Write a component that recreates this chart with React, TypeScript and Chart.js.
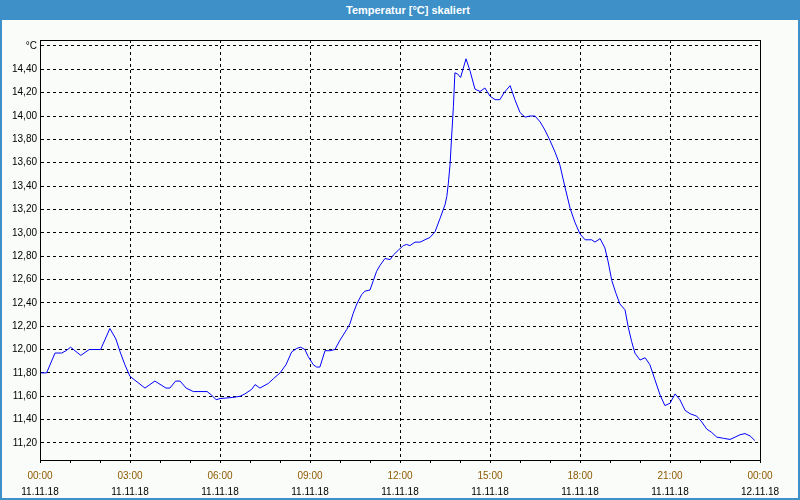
import React, { useEffect, useRef } from 'react';
import { Chart, registerables } from 'chart.js';

Chart.register(...registerables);

// Time of day in hours (0 = 00:00 on 11.11.18, 24 = 00:00 on 12.11.18)
const hours = [
  0, 0.22, 0.5, 0.72, 0.87, 1.02, 1.36, 1.64, 2.02, 2.33, 2.53, 2.67, 2.83, 3.0, 3.2, 3.5,
  3.83, 4.2, 4.33, 4.52, 4.67, 4.87, 5.11, 5.57, 5.72, 5.87, 6.0, 6.43, 6.67, 6.83, 7.06,
  7.17, 7.33, 7.61, 7.78, 8.0, 8.2, 8.39, 8.56, 8.69, 8.83, 8.94, 9.11, 9.22, 9.33, 9.5,
  9.67, 9.83, 10.0, 10.22, 10.33, 10.44, 10.56, 10.72, 10.83, 11.0, 11.11, 11.22, 11.33,
  11.5, 11.67, 11.78, 11.94, 12.11, 12.22, 12.33, 12.5, 12.67, 12.83, 13.0, 13.17, 13.33,
  13.5, 13.56, 13.61, 13.67, 13.72, 13.78, 13.83, 13.92, 14.02, 14.11, 14.2, 14.33, 14.5,
  14.67, 14.83, 15.0, 15.17, 15.33, 15.47, 15.67, 15.83, 16.0, 16.17, 16.33, 16.5, 16.67,
  16.83, 17.0, 17.17, 17.33, 17.5, 17.67, 17.83, 18.0, 18.17, 18.39, 18.5, 18.67, 18.83,
  18.94, 19.06, 19.2, 19.33, 19.5, 19.61, 19.72, 19.83, 20.0, 20.17, 20.33, 20.5, 20.67,
  20.83, 21.0, 21.17, 21.33, 21.5, 21.67, 21.89, 22.06, 22.22, 22.39, 22.56, 22.78, 23.0,
  23.17, 23.33, 23.5, 23.67, 23.83,
];

// Temperature in °C
const temps = [
  11.8, 11.8, 11.97, 11.97, 11.99, 12.02, 11.95, 12.0, 12.0, 12.18, 12.09, 11.98, 11.87, 11.77, 11.73, 11.67,
  11.73, 11.67, 11.67, 11.73, 11.73, 11.67, 11.64, 11.64, 11.61, 11.57, 11.58, 11.59, 11.6, 11.62, 11.66,
  11.7, 11.67, 11.71, 11.75, 11.8, 11.87, 11.98, 12.01, 12.02, 12.0, 11.94, 11.87, 11.85, 11.85, 11.99,
  11.99, 12.0, 12.08, 12.17, 12.22, 12.31, 12.39, 12.47, 12.5, 12.51, 12.59, 12.67, 12.72,
  12.78, 12.77, 12.81, 12.85, 12.89, 12.9, 12.89, 12.92, 12.92, 12.94, 12.96, 13.01, 13.12,
  13.24, 13.31, 13.42, 13.59, 13.82, 14.08, 14.37, 14.36, 14.33, 14.41, 14.49, 14.39, 14.23,
  14.21, 14.24, 14.17, 14.14, 14.14, 14.2, 14.26, 14.14, 14.03, 13.99, 14.0, 14.0, 13.95,
  13.88, 13.79, 13.69, 13.58, 13.39, 13.21, 13.09, 12.99, 12.94, 12.94, 12.92, 12.95, 12.87,
  12.75, 12.59, 12.48, 12.39, 12.34, 12.19, 12.07, 11.97, 11.91, 11.93, 11.87, 11.74, 11.61,
  11.52, 11.54, 11.62, 11.57, 11.48, 11.45, 11.43, 11.38, 11.32, 11.29, 11.25, 11.24, 11.23,
  11.25, 11.27, 11.28, 11.26, 11.22,
];

const yTicks = [11.2, 11.4, 11.6, 11.8, 12.0, 12.2, 12.4, 12.6, 12.8, 13.0, 13.2, 13.4, 13.6, 13.8, 14.0, 14.2, 14.4, 14.6];
const timeLabels = ['00:00', '03:00', '06:00', '09:00', '12:00', '15:00', '18:00', '21:00', '00:00'];
const dateLabels = ['11.11.18', '11.11.18', '11.11.18', '11.11.18', '11.11.18', '11.11.18', '11.11.18', '11.11.18', '12.11.18'];

const TITLE = 'Temperatur [°C] skaliert';
const BLUE = '#3d90c8';
const FONT = { family: '"Liberation Sans", Arial, sans-serif', size: 10 };

const isMult3 = (v: number) => Math.abs(v - Math.round(v / 3) * 3) < 1e-6;

const framePlugin = {
  id: 'frame',
  afterDatasetsDraw(chart: any) {
    const { ctx, chartArea } = chart;
    ctx.save();
    ctx.strokeStyle = '#000';
    ctx.lineWidth = 1;
    ctx.strokeRect(
      Math.round(chartArea.left) + 0.5,
      Math.round(chartArea.top) + 0.5,
      Math.round(chartArea.right - chartArea.left),
      Math.round(chartArea.bottom - chartArea.top)
    );
    ctx.restore();
  },
};

export default function App() {
  const ref = useRef<HTMLCanvasElement>(null);

  useEffect(() => {
    document.body.style.margin = '0';
    const data = hours.map((h, i) => ({ x: h, y: temps[i] }));
    const chart = new Chart(ref.current as HTMLCanvasElement, {
      type: 'line',
      data: {
        datasets: [
          {
            data,
            borderColor: '#0000ff',
            borderWidth: 1,
            pointRadius: 0,
            tension: 0,
            fill: false,
          },
        ],
      },
      options: {
        responsive: false,
        animation: false,
        devicePixelRatio: 1,
        layout: { padding: { top: 40, right: 40, left: 0, bottom: 0 } },
        plugins: { legend: { display: false }, tooltip: { enabled: false }, title: { display: false } },
        scales: {
          x: {
            type: 'linear',
            position: 'bottom',
            weight: 0,
            min: 0,
            max: 24,
            ticks: {
              stepSize: 1,
              autoSkip: false,
              maxRotation: 0,
              padding: 7,
              color: '#8c5a00',
              font: FONT,
              callback: (v: any) => (isMult3(Number(v)) ? timeLabels[Math.round(Number(v) / 3)] : ''),
            },
            grid: {
              color: (ctx: any) =>
                ctx.tick && isMult3(ctx.tick.value) ? '#000' : 'rgba(0,0,0,0)',
              tickColor: '#000',
              tickLength: 3,
              tickBorderDash: [],
              lineWidth: 1,
            },
            border: { display: true, color: '#000', width: 1, dash: [3, 3] },
            afterFit: (s: any) => {
              s.height = 20;
            },
          },
          x2: {
            type: 'linear',
            position: 'bottom',
            weight: 1,
            min: 0,
            max: 24,
            ticks: {
              stepSize: 3,
              autoSkip: false,
              maxRotation: 0,
              padding: 6,
              color: '#000',
              font: FONT,
              callback: (v: any) => (isMult3(Number(v)) ? dateLabels[Math.round(Number(v) / 3)] : ''),
            },
            grid: { display: false, drawTicks: false },
            border: { display: false },
            afterFit: (s: any) => {
              s.height = 20;
            },
          },
          y: {
            type: 'linear',
            min: 11.054,
            max: 14.651,
            afterBuildTicks: (s: any) => {
              s.ticks = yTicks.map((v) => ({ value: v }));
            },
            ticks: {
              padding: 3,
              color: '#000',
              font: FONT,
              callback: (v: any) =>
                Math.abs(Number(v) - 14.6) < 1e-6 ? '°C' : Number(v).toFixed(2).replace('.', ','),
            },
            grid: { color: '#000', drawTicks: false, lineWidth: 1 },
            border: { display: true, color: '#000', width: 1, dash: [3, 3] },
            afterFit: (s: any) => {
              s.width = 40;
            },
          },
        },
      } as any,
      plugins: [framePlugin],
    });
    return () => chart.destroy();
  }, []);

  return (
    <div style={{ position: 'relative', width: 800, height: 500, background: '#fafcfa', overflow: 'hidden' }}>
      <canvas ref={ref} width={800} height={500} style={{ position: 'absolute', left: 0, top: 0, width: 800, height: 500 }} />
      <div
        style={{
          position: 'absolute',
          left: 0,
          top: 0,
          width: 800,
          height: 20,
          background: BLUE,
          color: '#fff',
          fontFamily: '"Liberation Sans", Arial, sans-serif',
          fontWeight: 'bold',
          fontSize: 11,
          lineHeight: '20px',
          textAlign: 'center',
          paddingLeft: 16,
          boxSizing: 'border-box',
        }}
      >
        {TITLE}
      </div>
      <div
        style={{
          position: 'absolute',
          left: 0,
          top: 0,
          width: 800,
          height: 500,
          border: `2px solid ${BLUE}`,
          borderTop: 'none',
          boxSizing: 'border-box',
          pointerEvents: 'none',
        }}
      />
    </div>
  );
}
